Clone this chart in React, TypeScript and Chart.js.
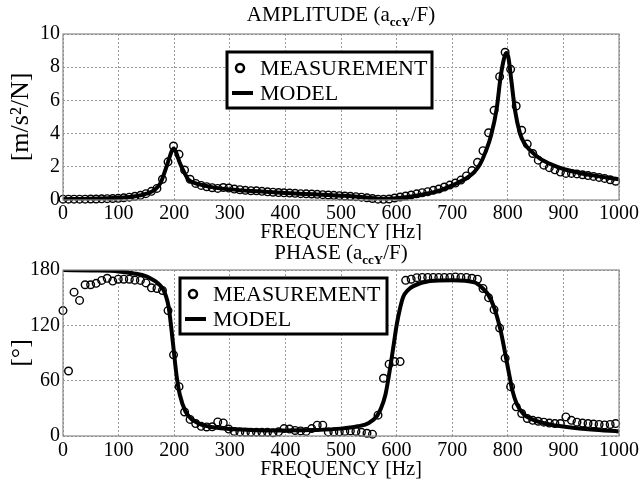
import React, { useEffect, useRef } from "react";
import { Chart, registerables } from "chart.js";

Chart.register(...registerables);

const FONT = "'Liberation Serif', 'Times New Roman', Times, serif";

// Measurement frequencies [Hz]
const measFreq = [
  0, 9.9, 19.9, 29.8, 39.8, 49.7, 59.6, 69.6, 79.5, 89.5,
  99.4, 109.3, 119.3, 129.2, 139.2, 149.1, 159.0, 169.0, 178.9, 188.9,
  198.8, 208.7, 218.7, 228.6, 238.6, 248.5, 258.4, 268.4, 278.3, 288.3,
  298.2, 308.1, 318.1, 328.0, 338.0, 347.9, 357.8, 367.8, 377.7, 387.7,
  397.6, 407.5, 417.5, 427.4, 437.4, 447.3, 457.2, 467.2, 477.1, 487.1,
  497.0, 506.9, 516.9, 526.8, 536.8, 546.7, 556.6, 566.6, 576.5, 586.5,
  596.4, 606.3, 616.3, 626.2, 636.2, 646.1, 656.0, 666.0, 675.9, 685.9,
  695.8, 705.7, 715.7, 725.6, 735.6, 745.5, 755.4, 765.4, 775.3, 785.3,
  795.2, 805.1, 815.1, 825.0, 835.0, 844.9, 854.8, 864.8, 874.7, 884.7,
  894.6, 904.5, 914.5, 924.4, 934.4, 944.3, 954.2, 964.2, 974.1, 984.1,
  994.0,
];

// Measured amplitude [m/s^2/N]
const measAmp = [
  0.05, 0.05, 0.05, 0.05, 0.05, 0.06, 0.06, 0.07, 0.08, 0.09,
  0.1, 0.13, 0.17, 0.22, 0.28, 0.38, 0.52, 0.7, 1.25, 2.3,
  3.25, 2.75, 1.8, 1.25, 1.0, 0.88, 0.8, 0.74, 0.7, 0.75,
  0.72, 0.66, 0.62, 0.58, 0.56, 0.55, 0.52, 0.49, 0.47, 0.45,
  0.43, 0.42, 0.4, 0.38, 0.37, 0.36, 0.34, 0.32, 0.3, 0.28,
  0.26, 0.24, 0.22, 0.2, 0.17, 0.13, 0.09, 0.05, 0.04, 0.06,
  0.12, 0.18, 0.24, 0.3, 0.37, 0.44, 0.5, 0.58, 0.66, 0.78,
  0.9, 1.02, 1.2, 1.45, 1.77, 2.27, 2.97, 4.05, 5.4, 7.43,
  8.9, 7.87, 5.66, 4.2, 3.37, 2.8, 2.4, 2.1, 1.95, 1.82,
  1.68, 1.6, 1.6, 1.57, 1.52, 1.47, 1.42, 1.36, 1.3, 1.22,
  1.13,
];

// Measured phase [deg]
const measPhase = [
  136, 70.5, 156, 147, 164, 164, 165.5, 168.7, 171, 168,
  170, 170, 170, 169, 168.7, 166, 160.7, 160, 157.8, 136,
  88, 53.5, 26, 18, 13.5, 10.5, 9.8, 10, 15.3, 14.2,
  7.5, 5, 4.4, 4.2, 4.2, 4.2, 4, 4, 3.5, 4.5,
  8, 7.5, 6, 5.5, 5, 8, 11.7, 11.7, 4.4, 4.4,
  4.5, 5, 5.5, 5, 4, 3, 2, 22.6, 62.6, 77.9,
  80.7, 80.7, 168.8, 170, 171.7, 172, 172, 172, 172, 172,
  172, 172.5, 172, 172, 171, 170, 160, 150, 137, 117,
  84.4, 53.5, 31.6, 24.4, 19, 17, 16, 15, 14, 13.5,
  13.5, 20.7, 17, 15, 14, 13.5, 13, 12.5, 12, 12.5,
  13.5,
];

// Model amplitude curve
const modelAmpFreq = [
  0, 50, 100, 130, 150, 165, 175, 183, 190, 195,
  199, 203, 210, 219, 225, 235, 250, 270, 300, 350,
  400, 450, 500, 530, 560, 580, 600, 630, 660, 680,
  700, 720, 740, 750, 760, 770, 780, 787, 793, 797,
  801, 806, 813, 822, 830, 840, 850, 860, 880, 900,
  950, 1000,
];
const modelAmp = [
  0.05, 0.07, 0.13, 0.22, 0.38, 0.62, 1.0, 1.7, 2.4, 2.9,
  3.1, 2.9, 2.25, 1.6, 1.25, 1.05, 0.9, 0.76, 0.64, 0.52,
  0.42, 0.34, 0.26, 0.2, 0.1, 0.06, 0.1, 0.22, 0.42, 0.6,
  0.88, 1.2, 1.7, 2.15, 2.9, 3.9, 5.5, 7.4, 8.5, 8.85,
  8.6, 7.3, 5.4, 4.0, 3.4, 3.0, 2.7, 2.45, 2.12, 1.87,
  1.5, 1.25,
];

// Model phase curve
const modelPhaseFreq = [
  0, 50, 100, 130, 150, 160, 170, 180, 185, 190,
  195, 200, 205, 210, 220, 230, 240, 250, 270, 300,
  350, 400, 450, 500, 530, 550, 565, 572, 580, 586,
  590, 595, 600, 606, 612, 620, 630, 660, 700, 740,
  755, 765, 775, 786, 792, 798, 804, 808, 816, 828,
  840, 858, 880, 906, 950, 1000,
];
const modelPhase = [
  180, 179.5, 178.5, 176, 173, 170, 166, 159, 152, 140,
  116, 88, 62, 45, 27, 19, 15, 12, 9.5, 7.5,
  6.3, 6, 6.5, 8, 10.5, 14, 22, 30, 45, 65,
  80, 100, 120, 138, 151, 158, 162.5, 168, 168.8, 166.5,
  160, 153, 140, 117, 100, 81, 62, 50, 35, 24,
  19, 15, 12, 9.8, 7, 5,
];

const freqTicks = [0, 100, 200, 300, 400, 500, 600, 700, 800, 900, 1000];
const ampTicks = [0, 2, 4, 6, 8, 10];
const phaseTicks = [0, 60, 120, 180];

const SERIES_MEAS = "MEASUREMENT";
const SERIES_MODEL = "MODEL";

type PanelOpts = {
  titleMain: string;
  titleSub: string;
  titleTail: string;
  yLabel: string;
  yMin: number;
  yMax: number;
  yTicks: number[];
  measY: number[];
  modelX: number[];
  modelY: number[];
  padTop: number;
  xAxisHeight: number;
  xTickPad: number;
  xTitlePadBottom: number;
  titleOffset: number;
  legendBox: { dx: number; dy: number; w: number; h: number };
};

function buildConfig(p: PanelOpts): any {
  const titlePlugin = {
    id: "subTitle",
    afterDraw(chart: any) {
      const { ctx, chartArea } = chart;
      const cx = (chartArea.left + chartArea.right) / 2;
      const baseY = chartArea.top - p.titleOffset;
      ctx.save();
      ctx.fillStyle = "#000";
      ctx.textBaseline = "alphabetic";
      ctx.textAlign = "left";
      const mainFont = `21px ${FONT}`;
      const subFont = `bold 13px ${FONT}`;
      ctx.font = mainFont;
      const w1 = ctx.measureText(p.titleMain).width;
      const w3 = ctx.measureText(p.titleTail).width;
      ctx.font = subFont;
      const w2 = ctx.measureText(p.titleSub).width;
      let x = cx - (w1 + w2 + w3) / 2;
      ctx.font = mainFont;
      ctx.fillText(p.titleMain, x, baseY);
      x += w1;
      ctx.font = subFont;
      ctx.fillText(p.titleSub, x, baseY + 5);
      x += w2;
      ctx.font = mainFont;
      ctx.fillText(p.titleTail, x, baseY);
      ctx.restore();
    },
  };

  const framePlugin = {
    id: "frame",
    afterDatasetsDraw(chart: any) {
      const { ctx, chartArea } = chart;
      ctx.save();
      ctx.strokeStyle = "#8a8a8a";
      ctx.lineWidth = 1.2;
      ctx.setLineDash([]);
      ctx.strokeRect(
        chartArea.left,
        chartArea.top,
        chartArea.right - chartArea.left,
        chartArea.bottom - chartArea.top
      );
      ctx.restore();
    },
  };

  const legendPlugin = {
    id: "boxLegend",
    afterDraw(chart: any) {
      const { ctx, chartArea } = chart;
      const b = p.legendBox;
      const x0 = chartArea.left + b.dx;
      const y0 = chartArea.top + b.dy;
      ctx.save();
      ctx.fillStyle = "#fff";
      ctx.fillRect(x0, y0, b.w, b.h);
      ctx.strokeStyle = "#000";
      ctx.lineWidth = 3;
      ctx.strokeRect(x0, y0, b.w, b.h);
      const r1 = y0 + 16;
      const r2 = y0 + 41;
      ctx.beginPath();
      ctx.lineWidth = 2.5;
      ctx.arc(x0 + 13, r1, 4, 0, Math.PI * 2);
      ctx.stroke();
      ctx.beginPath();
      ctx.lineWidth = 4;
      ctx.moveTo(x0 + 5, r2);
      ctx.lineTo(x0 + 26, r2);
      ctx.stroke();
      ctx.fillStyle = "#000";
      ctx.font = `22px ${FONT}`;
      ctx.textBaseline = "middle";
      ctx.textAlign = "left";
      ctx.fillText(SERIES_MEAS, x0 + 33, r1 + 1);
      ctx.fillText(SERIES_MODEL, x0 + 33, r2 + 1);
      ctx.restore();
    },
  };

  const gridColor = "#9a9a9a";

  return {
    type: "line",
    data: {
      datasets: [
        {
          label: SERIES_MODEL,
          data: p.modelX.map((x, i) => ({ x, y: p.modelY[i] })),
          borderColor: "#000",
          borderWidth: 4,
          pointRadius: 0,
          cubicInterpolationMode: "monotone",
          fill: false,
          order: 0,
        },
        {
          label: SERIES_MEAS,
          data: measFreq.map((x, i) => ({ x, y: p.measY[i] })),
          showLine: false,
          pointRadius: 3.8,
          pointBorderWidth: 1.4,
          pointBorderColor: "#000",
          pointBackgroundColor: "rgba(255,255,255,0)",
          clip: false,
          order: 1,
        },
      ],
    },
    options: {
      responsive: false,
      animation: false,
      events: [],
      layout: { padding: { left: 0, right: 23, top: p.padTop, bottom: 0 } },
      plugins: {
        legend: { display: false },
        tooltip: { enabled: false },
        title: { display: false },
      },
      scales: {
        x: {
          type: "linear",
          min: 0,
          max: 1000,
          afterBuildTicks: (s: any) => {
            s.ticks = freqTicks.map((v) => ({ value: v }));
          },
          afterFit: (s: any) => {
            s.height = p.xAxisHeight;
          },
          grid: { color: gridColor, lineWidth: 1, drawTicks: false },
          border: { display: false, dash: [2, 2] },
          ticks: {
            color: "#000",
            font: { family: FONT, size: 20 },
            padding: p.xTickPad,
            maxRotation: 0,
            autoSkip: false,
            callback: (v: any) => String(v),
          },
          title: {
            display: true,
            text: "FREQUENCY [Hz]",
            color: "#000",
            font: { family: FONT, size: 20 },
            padding: { top: 0, bottom: p.xTitlePadBottom },
          },
        },
        y: {
          type: "linear",
          min: p.yMin,
          max: p.yMax,
          afterBuildTicks: (s: any) => {
            s.ticks = p.yTicks.map((v) => ({ value: v }));
          },
          afterFit: (s: any) => {
            s.width = 63;
          },
          grid: { color: gridColor, lineWidth: 1, drawTicks: false },
          border: { display: false, dash: [2, 2] },
          ticks: {
            color: "#000",
            font: { family: FONT, size: 20 },
            padding: 3,
            callback: (v: any) => String(v),
          },
          title: {
            display: true,
            text: p.yLabel,
            color: "#000",
            font: { family: FONT, size: 26 },
            padding: { top: 6, bottom: 0 },
          },
        },
      },
    },
    plugins: [framePlugin, titlePlugin, legendPlugin],
  };
}

export default function App() {
  const topRef = useRef<HTMLCanvasElement>(null);
  const botRef = useRef<HTMLCanvasElement>(null);

  useEffect(() => {
    const c1 = new Chart(
      topRef.current as HTMLCanvasElement,
      buildConfig({
        titleMain: "AMPLITUDE (a",
        titleSub: "ccY",
        titleTail: "/F)",
        yLabel: "[m/s²/N]",
        yMin: 0,
        yMax: 10,
        yTicks: ampTicks,
        measY: measAmp,
        modelX: modelAmpFreq,
        modelY: modelAmp,
        padTop: 34,
        xAxisHeight: 40,
        xTickPad: 2,
        xTitlePadBottom: -5,
        titleOffset: 13,
        legendBox: { dx: 164, dy: 18, w: 205, h: 56 },
      })
    );
    const c2 = new Chart(
      botRef.current as HTMLCanvasElement,
      buildConfig({
        titleMain: "PHASE (a",
        titleSub: "ccY",
        titleTail: "/F)",
        yLabel: "[°]",
        yMin: 0,
        yMax: 180,
        yTicks: phaseTicks,
        measY: measPhase,
        modelX: modelPhaseFreq,
        modelY: modelPhase,
        padTop: 30,
        xAxisHeight: 43,
        xTickPad: 2.5,
        xTitlePadBottom: -3,
        titleOffset: 11,
        legendBox: { dx: 117, dy: 8, w: 207, h: 56 },
      })
    );
    return () => {
      c1.destroy();
      c2.destroy();
    };
  }, []);

  return (
    <div
      style={{
        position: "absolute",
        left: 0,
        top: 0,
        width: 642,
        height: 479,
        background: "#fff",
        overflow: "hidden",
      }}
    >
      <canvas
        ref={topRef}
        width={642}
        height={240}
        style={{ position: "absolute", left: 0, top: 0 }}
      />
      <canvas
        ref={botRef}
        width={642}
        height={239}
        style={{ position: "absolute", left: 0, top: 240 }}
      />
    </div>
  );
}
